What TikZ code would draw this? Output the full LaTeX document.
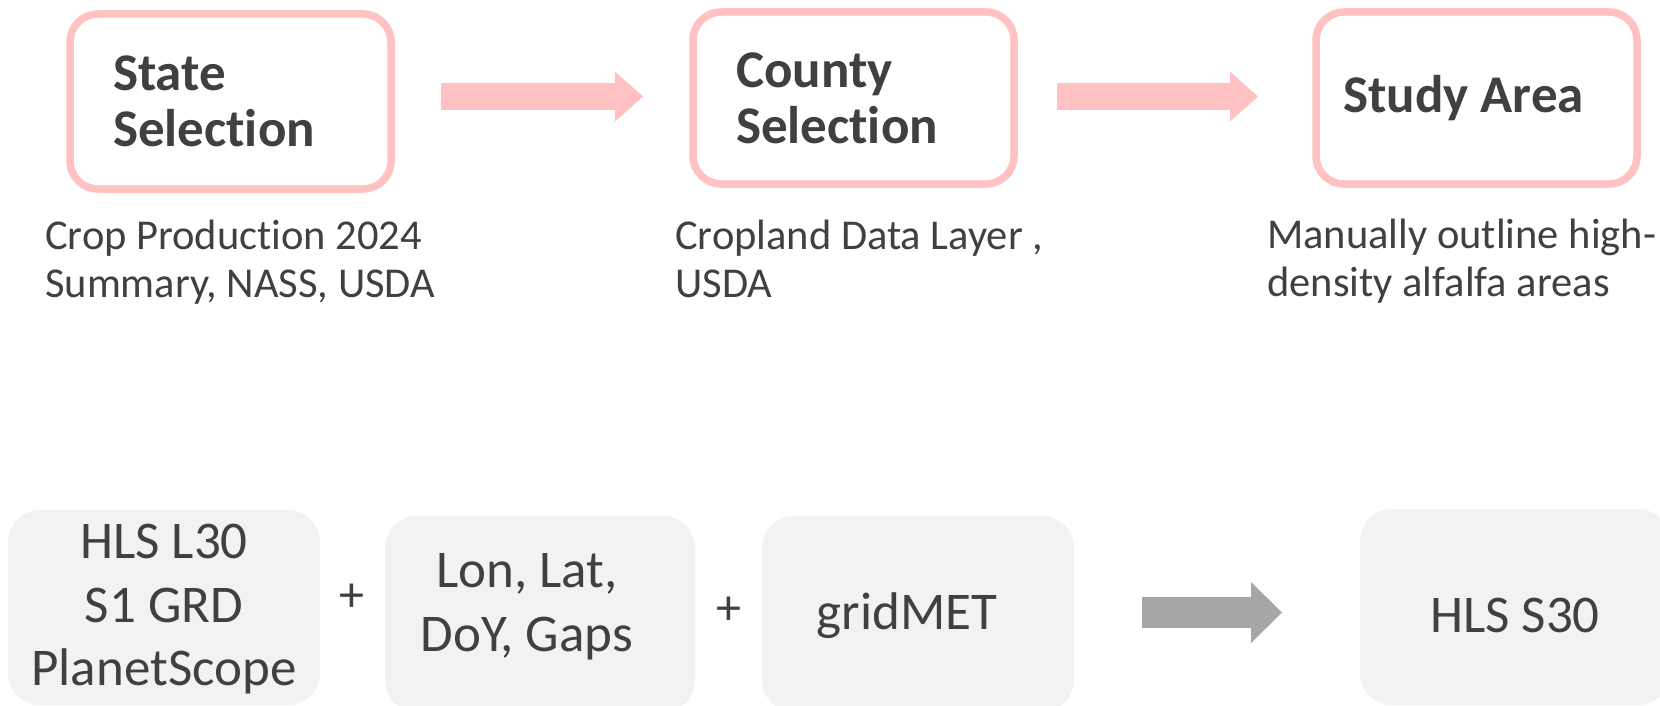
\documentclass[tikz,border=0pt]{standalone}
\usepackage{fontspec}
\setmainfont{Carlito}[Ligatures=NoCommon]
\usetikzlibrary{arrows.meta}
\definecolor{pinkc}{HTML}{FFC1C1}
\definecolor{txt}{HTML}{404040}
\definecolor{boxgray}{HTML}{F2F2F2}
\definecolor{arrgray}{HTML}{A6A6A6}
\begin{document}
\begin{tikzpicture}[x=1pt,y=-1pt,
  pinkbox/.style={draw=pinkc, line width=7.5pt, fill=white, rounded corners=28pt,
    outer sep=0pt, inner sep=0pt, text=txt, align=left,
    minimum width=321pt, minimum height=172pt,
    font=\fontsize{53}{56}\selectfont\bfseries},
  boldtext/.style={text=txt, inner sep=0pt, font=\fontsize{53}{56}\selectfont\bfseries},
  graybox/.style={fill=boxgray, rounded corners=32pt, outer sep=0pt, inner sep=0pt,
    minimum width=311pt, minimum height=196pt},
  captiontext/.style={anchor=base west, align=left, text=txt, inner sep=0pt,
    font=\fontsize{42.5}{48}\selectfont},
  bigtext/.style={text=txt, align=center, inner sep=0pt,
    font=\fontsize{53}{63.5}\selectfont},
  plustext/.style={text=txt, inner sep=0pt, font=\fontsize{50}{56}\selectfont},
  pinkarrow/.style={draw=pinkc, line width=27pt,
    -{Triangle[length=28pt,width=50pt,line width=0pt]}},
  grayarrow/.style={draw=arrgray, line width=31pt,
    -{Triangle[length=31pt,width=61pt,line width=0pt]}}
]
\useasboundingbox (0,0) rectangle (1660,706);
\clip (0,0) rectangle (1660,706);

% top row
\node[pinkbox, minimum height=175pt, text width=235pt] (state) at (230.5,101.5) {State\\Selection};
\node[pinkbox, text width=235pt] (county) at (853.5,98) {County\\Selection};
\node[pinkbox] (study) at (1476.5,98) {};
\node[boldtext] (studytext) at ([xshift=-13pt]study.center) {Study Area};

\draw[pinkarrow] ([xshift=50pt,yshift=5pt]state.east) -- ([xshift=-50pt,yshift=1.5pt]county.west);
\draw[pinkarrow] ([xshift=43pt,yshift=1.5pt]county.east) -- ([xshift=-58pt,yshift=1.5pt]study.west);

\node[captiontext] (cap1) at (45,297) {Crop Production 2024\\Summary, NASS, USDA};
\node[captiontext] (cap2) at (675,297) {Cropland Data Layer ,\\USDA};
\node[captiontext] (cap3) at (1267,296) {Manually outline high-\\density alfalfa areas};

% bottom row
\node[graybox, minimum width=312pt, minimum height=195pt] (hls) at (164,607.5) {};
\node[bigtext] (hlstext) at ([yshift=-2pt]hls.center) {HLS L30\\S1 GRD\\PlanetScope};

\node[plustext] (plus1) at (352,598) {+};

\node[graybox, minimum width=310pt] (lonlat) at (540,614) {};
\node[bigtext] (lonlattext) at ([xshift=-13pt,yshift=7pt]lonlat.center) {Lon, Lat,\\DoY, Gaps};

\node[plustext] (plus2) at (729,611) {+};

\node[graybox, minimum width=312pt] (gridmet) at (918,614) {};
\node[bigtext] (gridmettext) at ([xshift=-11pt,yshift=-2pt]gridmet.center) {gridMET};

\node[graybox, minimum width=310pt] (s30) at (1515,607) {};
\node[bigtext] (s30text) at ([yshift=-8pt]s30.center) {HLS S30};

\draw[grayarrow] ([xshift=68pt,yshift=1.5pt]gridmet.east) -- ([xshift=-78pt,yshift=-5.5pt]s30.west);
\end{tikzpicture}
\end{document}
